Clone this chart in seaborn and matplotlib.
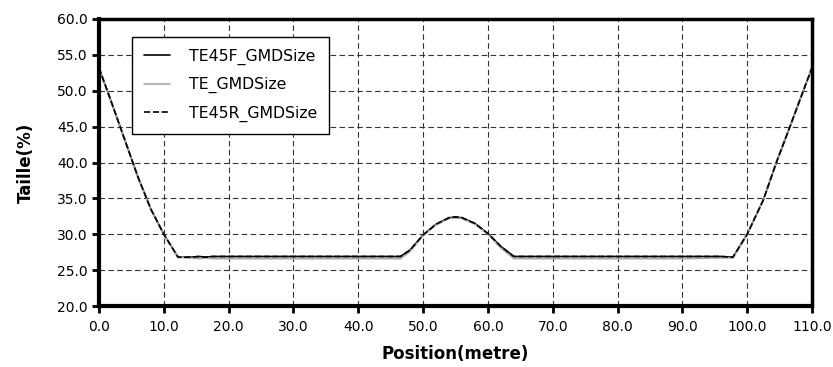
"""Taille vs position for three GMD size profiles."""
import matplotlib
matplotlib.use('Agg')
import matplotlib.pyplot as plt
import seaborn as sns
import pandas as pd

# Data
pos = [0.0, 2.0, 4.0, 6.0, 8.0, 10.0, 12.2, 14.0, 15.5, 16.5, 17.5, 20.0,
       30.0, 40.0, 46.5, 48.0, 50.0, 52.0, 54.0, 55.0, 56.0, 58.0, 60.0,
       62.0, 64.0, 70.0, 80.0, 90.0, 96.0, 97.8, 100.0, 102.5, 104.5,
       106.6, 108.0, 110.0]
te45f = [53.2, 48.2, 43.1, 38.0, 33.5, 30.0, 26.8, 26.8, 26.9, 26.8, 26.9,
         26.9, 26.9, 26.9, 26.9, 27.8, 29.9, 31.4, 32.3, 32.4, 32.3, 31.5,
         30.1, 28.3, 26.9, 26.9, 26.9, 26.9, 26.9, 26.8, 30.0, 34.8, 40.0,
         45.0, 48.4, 53.2]
te = [53.2, 48.2, 43.1, 38.0, 33.5, 30.0, 26.8, 26.7, 26.6, 26.7, 26.6,
      26.6, 26.6, 26.6, 26.6, 27.6, 29.8, 31.3, 32.2, 32.3, 32.2, 31.4,
      30.0, 28.1, 26.6, 26.6, 26.6, 26.6, 26.7, 26.7, 30.0, 34.8, 40.0,
      45.0, 48.4, 53.2]
te45r = te45f

series_names = ['TE45F_GMDSize', 'TE_GMDSize', 'TE45R_GMDSize']

# Build long-form table for seaborn
frames = []
for name, vals in zip(series_names, [te45f, te, te45r]):
    frames.append(pd.DataFrame({'Position': pos, 'Taille': vals,
                                'serie': name}))
df = pd.concat(frames, ignore_index=True)

sns.set_style('white')
plt.rcParams['font.family'] = ['DejaVu Sans']
plt.rcParams['text.color'] = 'black'
plt.rcParams['axes.labelcolor'] = 'black'

fig = plt.figure(figsize=(8.33, 3.67), dpi=100)
ax = fig.add_axes([99 / 833, 1 - 306 / 367, 713 / 833, 287 / 367])

styles = {'TE45F_GMDSize': ('black', '-'),
          'TE_GMDSize': ('#a8a8a8', '-'),
          'TE45R_GMDSize': ('black', '--')}
for name in series_names:
    col, ls = styles[name]
    sns.lineplot(data=df[df['serie'] == name], x='Position', y='Taille',
                 color=col, ls=ls, lw=1.2, label=name, ax=ax)

ax.set_xlim(0, 110)
ax.set_ylim(20, 60)
ax.set_xticks(range(0, 111, 10))
ax.set_yticks(range(20, 61, 5))
ax.set_xticklabels(['{:.1f}'.format(v) for v in range(0, 111, 10)])
ax.set_yticklabels(['{:.1f}'.format(v) for v in range(20, 61, 5)])
ax.tick_params(axis='both', direction='out', length=5, width=2,
               labelsize=10, colors='black', pad=3,
               bottom=True, left=True)
ax.tick_params(axis='x', pad=5)
ax.grid(True, color='#333333', ls=(0, (5, 3)), lw=0.8)

for side in ['left', 'bottom']:
    ax.spines[side].set_linewidth(3)
for side in ['top', 'right']:
    ax.spines[side].set_linewidth(2.5)
for sp in ax.spines.values():
    sp.set_color('black')

ax.set_xlabel('Position(metre)', fontsize=12, fontweight='bold', labelpad=8)
ax.set_ylabel('Taille(%)', fontsize=12, fontweight='bold', labelpad=16)

leg = ax.legend(loc='upper left', bbox_to_anchor=(0.035, 0.966),
                fontsize=11.3, frameon=True, fancybox=False,
                edgecolor='black', handlelength=1.7, borderpad=0.75,
                labelspacing=0.8, handletextpad=1.2, framealpha=1)
leg.get_frame().set_linewidth(1.0)

fig.savefig('out.png', dpi=100)
